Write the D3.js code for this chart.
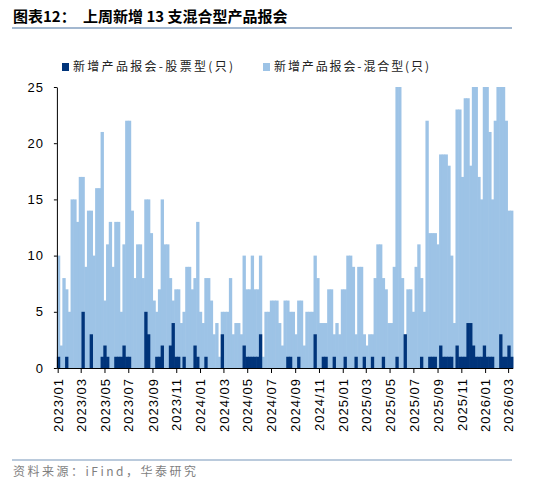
<!DOCTYPE html>
<html>
<head>
<meta charset="utf-8">
<script src="https://cdn.jsdelivr.net/npm/d3@7"></script>
<style>
  body { margin: 0; background: #fff; }
  svg text { font-family: "Liberation Sans", Arial, sans-serif; }
  .cjk { font-family: "Noto Sans CJK SC", sans-serif; }
</style>
</head>
<body>
<div id="chart"></div>
<script>
"use strict";

// weekly buckets (week ending Friday)
const firstWeek = new Date(2023, 0, 6);
const lastWeek = new Date(2026, 2, 13);
const seriesNames = ["新增产品报会-股票型(只)", "新增产品报会-混合型(只)"];
const yTicks = [0, 5, 10, 15, 20, 25];

// 新增产品报会-股票型(只)
const stockFunds = [
    1, 0, 0, 1, 0, 0, 0, 0, 0, 5,
    0, 0, 3, 0, 0, 0, 1, 2, 1, 0,
    0, 1, 1, 1, 2, 1, 1, 0, 0, 0,
    0, 0, 5, 3, 0, 0, 1, 1, 2, 0,
    0, 2, 4, 1, 1, 0, 1, 0, 0, 0,
    2, 1, 0, 0, 1, 0, 0, 0, 0, 0,
    3, 0, 0, 0, 0, 0, 0, 0, 2, 1,
    1, 1, 1, 1, 3, 0, 0, 0, 0, 0,
    0, 0, 0, 0, 1, 1, 0, 0, 1, 0,
    0, 0, 0, 0, 3, 0, 0, 1, 1, 0,
    0, 1, 0, 0, 0, 1, 0, 0, 0, 1,
    0, 0, 1, 0, 0, 1, 0, 0, 0, 1,
    0, 0, 0, 0, 1, 0, 0, 3, 0, 0,
    0, 0, 0, 1, 0, 0, 1, 1, 1, 0,
    2, 1, 1, 1, 1, 0, 2, 1, 1, 1,
    4, 4, 2, 1, 1, 1, 2, 1, 1, 1,
    0, 0, 3, 1, 1, 2, 1
];

// 新增产品报会-混合型(只)
const mixedFunds = [
    10, 2, 8, 7, 5, 15, 15, 13, 17, 17,
    9, 14, 14, 10, 16, 16, 21, 6, 11, 13,
    9, 13, 13, 5, 11, 22, 22, 14, 8, 11,
    11, 8, 15, 15, 12, 6, 5, 7, 15, 11,
    11, 8, 6, 7, 7, 4, 5, 9, 9, 7,
    8, 13, 5, 4, 8, 8, 6, 3, 4, 1,
    5, 5, 5, 8, 3, 4, 4, 3, 10, 7,
    7, 10, 7, 7, 10, 1, 5, 5, 6, 6,
    6, 4, 2, 6, 6, 5, 5, 3, 6, 6,
    2, 5, 5, 5, 10, 8, 4, 4, 4, 7,
    7, 3, 4, 3, 7, 7, 10, 10, 9, 3,
    9, 9, 3, 2, 3, 3, 8, 11, 11, 8,
    7, 4, 4, 9, 25, 25, 8, 3, 7, 7,
    5, 9, 11, 8, 5, 22, 12, 12, 12, 11,
    19, 19, 19, 18, 10, 4, 23, 23, 17, 24,
    24, 18, 25, 25, 17, 15, 25, 25, 21, 15,
    22, 25, 25, 25, 22, 14, 14
];

const colors = ["#00347a", "#9dc3e6"];

const msm = {
    width: 550,
    height: 484,
    left: 56.9,
    right: 512.8,
    top: 87,
    bottom: 368
};

let svgContainer = d3.select("#chart")
    .append("svg")
    .attr("width", msm.width)
    .attr("height", msm.height);

const weeks = d3.timeFriday.range(firstWeek, d3.timeDay.offset(lastWeek, 1));
const data = weeks.map((d, i) => ({ date: d, stock: stockFunds[i], mixed: mixedFunds[i] }));

let xScale = d3.scaleTime()
    .domain([d3.timeDay.offset(firstWeek, -7), lastWeek])
    .range([msm.left, msm.right]);

let yScale = d3.scaleLinear()
    .domain([0, 25])
    .range([msm.bottom, msm.top])
    .clamp(true);

// title + rule
let title = svgContainer.append("text")
    .attr("class", "cjk")
    .attr("y", 22)
    .style("font-size", "15px")
    .style("font-weight", "bold")
    .style("fill", "#000");
title.append("tspan").attr("x", 13).text("图表12：");
title.append("tspan").attr("x", 83).text("上周新增 13 支混合型产品报会");

svgContainer.append("line")
    .attr("x1", 12).attr("x2", 512)
    .attr("y1", 28).attr("y2", 28)
    .style("stroke", "#a3b8d0")
    .style("stroke-width", 1.8);

// legend
let legendX = [62, 263];
let legendW = [160, 155];
seriesNames.forEach((name, i) => {
    svgContainer.append("rect")
        .attr("x", legendX[i]).attr("y", 63)
        .attr("width", 7).attr("height", 8)
        .style("fill", colors[i]);
    svgContainer.append("text")
        .attr("class", "cjk")
        .attr("x", legendX[i] + 11)
        .attr("y", 67)
        .attr("dy", "0.36em")
        .attr("textLength", legendW[i])
        .attr("lengthAdjust", "spacing")
        .style("font-size", "12px")
        .style("fill", "#222")
        .text(name);
});

// bars: mixed behind, stock in front (small overlap so neighbours touch)
let barX = d => xScale(d3.timeDay.offset(d.date, -7));
let barW = d => xScale(d.date) - barX(d) + 0.6;

svgContainer.append("g").selectAll("rect")
    .data(data)
    .enter()
    .append("rect")
    .attr("x", barX)
    .attr("width", barW)
    .attr("y", d => yScale(d.mixed))
    .attr("height", d => yScale(0) - yScale(d.mixed))
    .style("fill", colors[1]);

svgContainer.append("g").selectAll("rect")
    .data(data.filter(d => d.stock > 0))
    .enter()
    .append("rect")
    .attr("x", barX)
    .attr("width", barW)
    .attr("y", d => yScale(d.stock))
    .attr("height", d => yScale(0) - yScale(d.stock))
    .style("fill", colors[0]);

// axes
let yAxis = d3.axisLeft(yScale)
    .tickValues(yTicks)
    .tickSizeInner(3)
    .tickSizeOuter(0)
    .tickPadding(10);
let yG = svgContainer.append("g")
    .attr("transform", "translate(" + msm.left + ",0)")
    .call(yAxis);
yG.selectAll("text")
    .style("font-size", "13px")
    .style("letter-spacing", "1px")
    .style("fill", "#000");

let xAxis = d3.axisBottom(xScale)
    .ticks(d3.timeMonth.every(2))
    .tickFormat(d3.timeFormat("%Y/%m"))
    .tickSizeInner(5)
    .tickSizeOuter(0);
let xG = svgContainer.append("g")
    .attr("transform", "translate(0," + msm.bottom + ")")
    .call(xAxis);
xG.selectAll("text")
    .attr("transform", "rotate(-90)")
    .attr("x", -10)
    .attr("y", 0)
    .attr("dy", "0.36em")
    .style("text-anchor", "end")
    .style("font-size", "13px")
    .style("letter-spacing", "1px")
    .style("fill", "#000");
svgContainer.selectAll(".domain, .tick line").style("stroke", "#000");

// source
svgContainer.append("line")
    .attr("x1", 12).attr("x2", 512)
    .attr("y1", 460).attr("y2", 460)
    .style("stroke", "#a3b8d0")
    .style("stroke-width", 1.5);

svgContainer.append("text")
    .attr("class", "cjk")
    .attr("x", 13)
    .attr("y", 476)
    .attr("textLength", 183)
    .attr("lengthAdjust", "spacing")
    .style("font-size", "12px")
    .style("fill", "#7f7f7f")
    .text("资料来源：iFind，华泰研究");
</script>
</body>
</html>
